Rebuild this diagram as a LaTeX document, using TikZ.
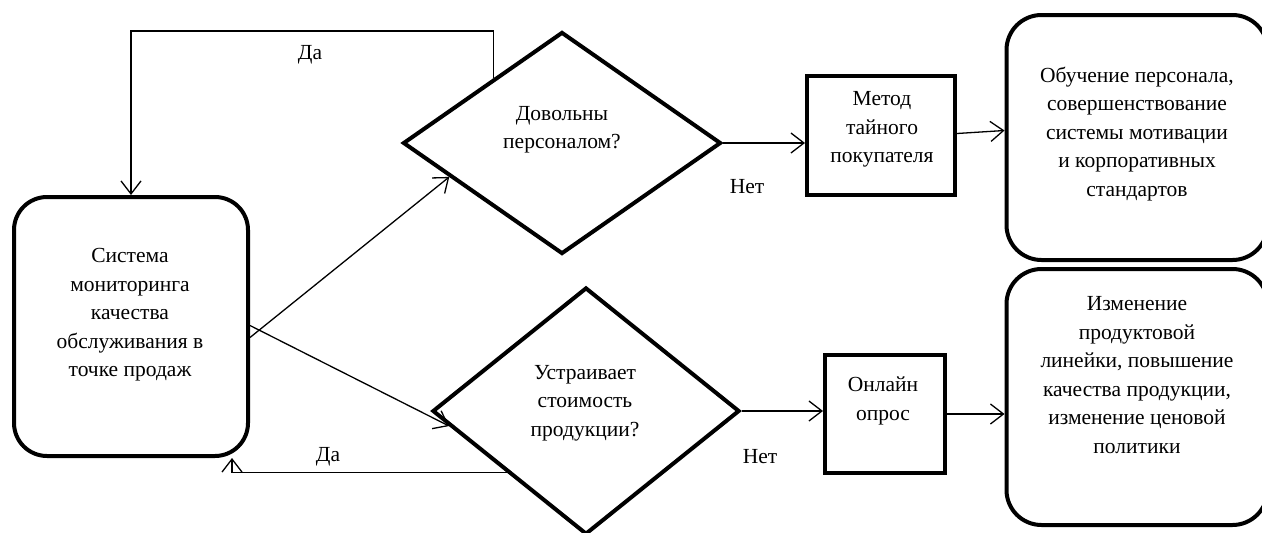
\documentclass[tikz,border=0pt]{standalone}
\usepackage{fontspec}
\setmainfont{Liberation Serif}
\usetikzlibrary{arrows.meta, positioning, shapes.geometric, calc}

\begin{document}
\begin{tikzpicture}[x=1pt,y=-1pt]
\tikzset{
  txt/.style={align=center, font=\fontsize{21.5}{28.5}\selectfont, inner sep=0pt},
  card/.style={draw, line width=4pt, rounded corners=33pt, inner sep=0pt},
  block/.style={draw, line width=4pt, inner sep=0pt},
  ask/.style={draw, diamond, line width=4pt, inner sep=0pt},
  flow/.style={line width=1.3pt, -{Straight Barb[length=13pt,width=20pt]}}
}
\useasboundingbox (0,0) rectangle (1262,533);

% shapes
\node[card, minimum width=234pt, minimum height=259pt] (sys) at (131,326.5) {};
\node[ask, minimum width=318pt, minimum height=222pt] (q1) at (562,143) {};
\node[ask, minimum width=307pt, minimum height=247pt] (q2) at (586,411) {};
\node[block, minimum width=148pt, minimum height=119pt] (meth) at (881,135.5) {};
\node[block, minimum width=120pt, minimum height=118pt] (poll) at (885,414) {};
\node[card, rounded corners=35pt, minimum width=261pt, minimum height=245pt] (res1) at (1137,137.5) {};
\node[card, rounded corners=35pt, minimum width=261pt, minimum height=256pt] (res2) at (1137,397) {};

% texts
\node[txt] (sysT) at (130,315) {Система\\мониторинга\\качества\\обслуживания в\\точке продаж};
\node[txt] (q1T) at (562,129.5) {Довольны\\персоналом?};
\node[txt] (q2T) at (585,403) {Устраивает\\стоимость\\продукции?};
\node[txt] (methT) at (882,129.5) {Метод\\тайного\\покупателя};
\node[txt] (pollT) at (883,401) {Онлайн\\опрос};
\node[txt] (res1T) at (1137,134) {Обучение персонала,\\совершенствование\\системы мотивации\\и корпоративных\\стандартов};
\node[txt] (res2T) at (1137,375) {Изменение\\продуктовой\\линейки, повышение\\качества продукции,\\изменение ценовой\\политики};

\node[txt] (yes1L) at (310,55) {Да};
\node[txt] (yes2L) at (328,457) {Да};
\node[txt] (no1L) at (747,187) {Нет};
\node[txt] (no2L) at (760,457) {Нет};

% connectors
\coordinate (yes1) at ($(q1.west)!0.574!(q1.north)$);
\coordinate (yes2) at ($(q2.west)!0.49!(q2.south)$);

\draw[flow] ($(sys.east)+(0,11)$) -- ($(q1.west)!0.3!(q1.south)$);
\draw[flow] ($(sys.east)+(0,-1)$) -- ($(q2.west)!0.12!(q2.south)$);
\draw[flow] (yes1) -- ++(0,-47) -| (sys.north);
\draw[flow] (yes2) -| ([xshift=101pt]sys.south);
\draw[flow] (q1.east) -- (q1.east -| meth.west);
\draw[flow] ($(meth.east)+(0,-2)$) -- ($(res1.west)+(0,-7)$);
\draw[flow] (q2.east) -- (q2.east -| poll.west);
\draw[flow] (poll.east) -- (poll.east -| res2.west);
\end{tikzpicture}
\end{document}
